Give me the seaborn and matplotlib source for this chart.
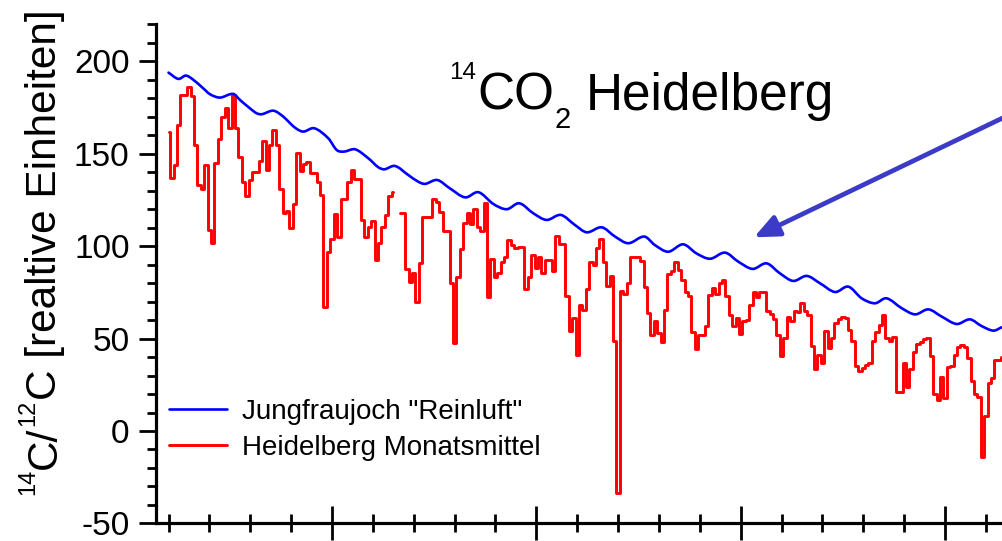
import numpy as np
import pandas as pd
import matplotlib
matplotlib.use("Agg")
import matplotlib.pyplot as plt
from matplotlib.lines import Line2D
from matplotlib.path import Path
from matplotlib.patches import PathPatch
from matplotlib.ticker import MultipleLocator, NullFormatter
import seaborn as sns

# Heidelberg monthly means (relative units), one value per month from January 1986
heidelberg = [
    162, 137, 144, 165.6, 182, 182, 186, 181, 155, 133, 131, 144,            # 1986
    109, 101.7, 145, 158, 170, 175, 164, 182, 164, 148, 134.6, 127,         # 1987
    135.8, 140, 140, 146, 157, 141, 155, 163, 155, 130.8, 117.8, 119,       # 1988
    109.7, 122.8, 150.6, 140.5, 144.5, 145.5, 139.4, 139.4, 134.9, 127.7, 67.3, 97,  # 1989
    103.9, 117.2, 105, 125.5, 125.5, 134.9, 141.2, 136.4, 136.4, 114.2, 105.1, 110.5,  # 1990
    113.8, 92.5, 101.9, 110.2, 116.9, 127.2, 129.3, np.nan, 117.8, 117.8, 87.5, 80.5,  # 1991
    85.3, 70, 90.7, 116, 116, 116, 125.3, 124, 118.7, 108.4, 108.4, 80.3,   # 1992
    47.8, 83.5, 98.7, 112.4, 118.2, 112, 120.1, 110.6, 108.2, 123.2, 72.7, 92.9,  # 1993
    83.5, 85.7, 91.6, 94.3, 103.4, 100.6, 98.8, 99.5, 99.5, 76.7, 83.5, 95.2,  # 1994
    88, 94, 85.7, 92.5, 92.5, 86.8, 105.7, 101, 101, 73, 54, 61,            # 1995
    41.1, 68.2, 65.5, 76.8, 91.6, 89.8, 98.8, 103.7, 91.6, 78.5, 83.9, 48.7,  # 1996
    -33.7, 75.8, 74, 79.9, 94, 94, 94, 92, 77.8, 63.7, 51.9, 59.7,          # 1997
    53.2, 48, 65.5, 85, 86.7, 91.6, 86.9, 81.7, 75.4, 73, 53.7, 44.2,       # 1998
    51.9, 51.9, 56.6, 73.5, 77.2, 74.1, 79.9, 81.7, 73, 62.8, 56.8, 61.3,   # 1999
    52.3, 59.5, 60, 68.2, 75.4, 72.3, 75.4, 75.4, 65.1, 63.3, 60.4, 52,     # 2000
    40.6, 50.1, 61.9, 59.5, 65.1, 64.5, 69.4, 65.1, 62.8, 46, 33.4, 41.1,   # 2001
    36.6, 54.3, 45.1, 50.1, 58.3, 60.4, 61.9, 61.2, 54.7, 48.9, 35.2, 32.6,  # 2002
    34, 35.7, 37, 48.9, 53.7, 57.4, 62.8, 50.1, 48.9, 51, 21.3, 21.3,       # 2003
    36.6, 24, 33.4, 42.9, 47.1, 48.3, 49.6, 50.1, 40.6, 20, 16.8, 29,       # 2004
    17.7, 34.4, 35, 41.1, 45.6, 46.5, 45.6, 39.3, 27.2, 20, 18.2, -13.9,    # 2005
    8.1, 25.8, 28.5, 38.4, 38.4, 40,                                        # 2006
]

# Jungfraujoch clean-air curve: months since January 1986 and values
jungfrau_months = [
    0, 2.9, 5.1, 7.3, 10.2, 12.2, 15.1, 19, 21, 23.9, 25.9, 27.4, 30.8, 33.7,
    35.7, 37.6, 39.6, 42.8, 46.9, 49.4, 51.6, 54.8, 58.7, 61.6, 63.4, 66.5,
    70.4, 73.3, 75.3, 78.9, 82.6, 87.1, 91, 95.4, 99.3, 103, 107.1, 111,
    115.2, 119.3, 122.8, 127.2, 131.1, 135, 139.7, 142.8, 146.7, 151.1, 155,
    159, 163.4, 167.3, 171.5, 175.6, 179.5, 183.4, 187.4, 191.3, 195.7, 199.6,
    203.5, 207.4, 210.8, 215.3, 219.2, 223.1, 227, 231.4, 235.3, 238.7, 242.2,
    244.6,
]
jungfrau_values = [
    193.9, 190.5, 192.3, 190, 185.4, 182.2, 180.4, 182.4, 179.1, 174.6, 171.9,
    171.4, 173.3, 170.1, 166.5, 163.5, 162, 163.8, 158.4, 152, 151.2, 152.4,
    147.5, 142.7, 141.6, 143.4, 138.5, 134.9, 133.7, 135.8, 131.3, 126.4,
    129.2, 122.8, 120, 123.2, 117.8, 114.2, 116.9, 111.5, 107.5, 110.2, 105.2,
    101.6, 105.2, 100.6, 97, 101, 96.1, 93.2, 96.5, 91.6, 87.7, 90.7, 85.3,
    81.2, 83.9, 79.9, 75.2, 78.1, 71.8, 69.1, 71.8, 66.4, 63.1, 65.8, 61.9,
    57.9, 60.4, 56.8, 54.3, 56.1,
]

start_year = 1986
legend_labels = ['Jungfraujoch "Reinluft"', "Heidelberg Monatsmittel"]
blue = "#0000ff"
red = "#ff0000"
arrow_color = "#3b3bc8"

sns.set_style("ticks")
plt.rcParams["font.family"] = ["Liberation Sans", "DejaVu Sans"]
plt.rcParams.update({"text.color": "black", "axes.labelcolor": "black",
                     "xtick.color": "black", "ytick.color": "black",
                     "axes.unicode_minus": False})

W, H = 1002, 541
fig = plt.figure(figsize=(W / 100, H / 100), dpi=100)
ax = fig.add_axes([156 / W, 17.6 / H, 944 / W, 499 / H])

# red monthly series; a missing month splits it into two runs
hd = pd.DataFrame({"value": heidelberg})
hd["year"] = start_year + np.arange(len(hd)) / 12
hd["run"] = hd["value"].isna().cumsum()
hd = hd.dropna()

jf = pd.DataFrame({"year": start_year + np.array(jungfrau_months) / 12,
                   "value": jungfrau_values})

sns.lineplot(data=jf, x="year", y="value", color=blue, lw=1.9, ax=ax,
             estimator=None, sort=False)
sns.lineplot(data=hd, x="year", y="value", units="run", estimator=None,
             color=red, lw=2.1, drawstyle="steps-mid", ax=ax, sort=False)


def hermite_path(x, y):
    """Smooth cubic path through the given points (x increasing)."""
    x = np.asarray(x, float)
    y = np.asarray(y, float)
    n = len(x)
    slope = np.empty(n)
    slope[1:-1] = (y[2:] - y[:-2]) / (x[2:] - x[:-2])
    slope[0] = (y[1] - y[0]) / (x[1] - x[0])
    slope[-1] = (y[-1] - y[-2]) / (x[-1] - x[-2])
    verts = [(x[0], y[0])]
    codes = [Path.MOVETO]
    for i in range(n - 1):
        dx = (x[i + 1] - x[i]) / 3
        verts += [(x[i] + dx, y[i] + slope[i] * dx),
                  (x[i + 1] - dx, y[i + 1] - slope[i + 1] * dx),
                  (x[i + 1], y[i + 1])]
        codes += [Path.CURVE4] * 3
    return Path(verts, codes)


# draw the clean-air curve as a smooth stroke through its points
jf_line = ax.lines[0]
curve = PathPatch(hermite_path(jf_line.get_xdata(), jf_line.get_ydata()),
                  fill=False, edgecolor=blue, lw=1.9, capstyle="round",
                  joinstyle="round", transform=ax.transData, zorder=2)
jf_line.remove()
ax.add_patch(curve)

ax.set_xlim(1985.694, 2008.79)
ax.set_ylim(-50, 220)
ax.set_xlabel("")
ax.set_ylabel("")

for side in ("top", "right"):
    ax.spines[side].set_visible(False)
for side in ("left", "bottom"):
    ax.spines[side].set_linewidth(2.3)
    ax.spines[side].set_color("black")

ax.xaxis.set_major_locator(MultipleLocator(5))
ax.xaxis.set_minor_locator(MultipleLocator(1))
ax.xaxis.set_major_formatter(NullFormatter())
ax.yaxis.set_major_locator(MultipleLocator(50))
ax.yaxis.set_minor_locator(MultipleLocator(10))
ax.tick_params(axis="x", which="major", direction="inout", length=25, width=2)
ax.tick_params(axis="x", which="minor", direction="inout", length=13.5, width=2)
ax.tick_params(axis="y", which="major", direction="out", length=12, width=2,
               labelsize=24, pad=7)
ax.tick_params(axis="y", which="minor", direction="out", length=6.5, width=2)

handles = [Line2D([], [], color=blue, lw=1.9), Line2D([], [], color=red, lw=2.1)]
ax.legend(handles, legend_labels, loc="upper left", bbox_to_anchor=(0.0135, 0.249),
          frameon=False, fontsize=20, handlelength=2.1, handletextpad=0.55,
          labelspacing=0.36, borderaxespad=0, borderpad=0)


def chain(pieces, start, rotated=False):
    """Lay out text pieces one after another, each (text, size, shift_pt, gap_pt)."""
    prev = None
    for text, size, shift, gap in pieces:
        kw = dict(fontsize=size, annotation_clip=False, textcoords="offset points")
        if rotated:
            kw.update(rotation=90, rotation_mode="anchor", ha="left", va="baseline")
            if prev is None:
                xy, xyc = start, "figure pixels"
            else:
                xy, xyc = (start[0], 1), ("figure pixels", prev)
            off = (-shift, gap)
        else:
            kw.update(ha="left", va="baseline")
            if prev is None:
                xy, xyc = start, "figure pixels"
            else:
                xy, xyc = (1, start[1]), (prev, "figure pixels")
            off = (gap, shift)
        prev = ax.annotate(text, xy=xy, xycoords=xyc, xytext=off, **kw)


# title with superscript mass number and subscript
chain([("14", 17.5, 22.5, 0), ("CO", 37, 0, 1), ("2", 21, -13, 0),
       ("Heidelberg", 37, 0, 11)], start=(449, 541 - 110))

# y axis label
chain([("14", 17, 16, 0), ("C/", 30.5, 0, 0), ("12", 17, 16, 0),
       ("C [realtive Einheiten]", 30.5, 0, 0)], start=(56, 541 - 495), rotated=True)

# arrow pointing at the clean-air curve
ax.annotate("", xy=(754, 541 - 237.3), xycoords="figure pixels",
            xytext=(1100, 541 - 71.3), textcoords="figure pixels",
            annotation_clip=False,
            arrowprops=dict(arrowstyle="-|>,head_length=0.75,head_width=0.33",
                            mutation_scale=20, lw=3.4, color=arrow_color,
                            shrinkA=0, shrinkB=0))

fig.savefig("out.png", dpi=100)
